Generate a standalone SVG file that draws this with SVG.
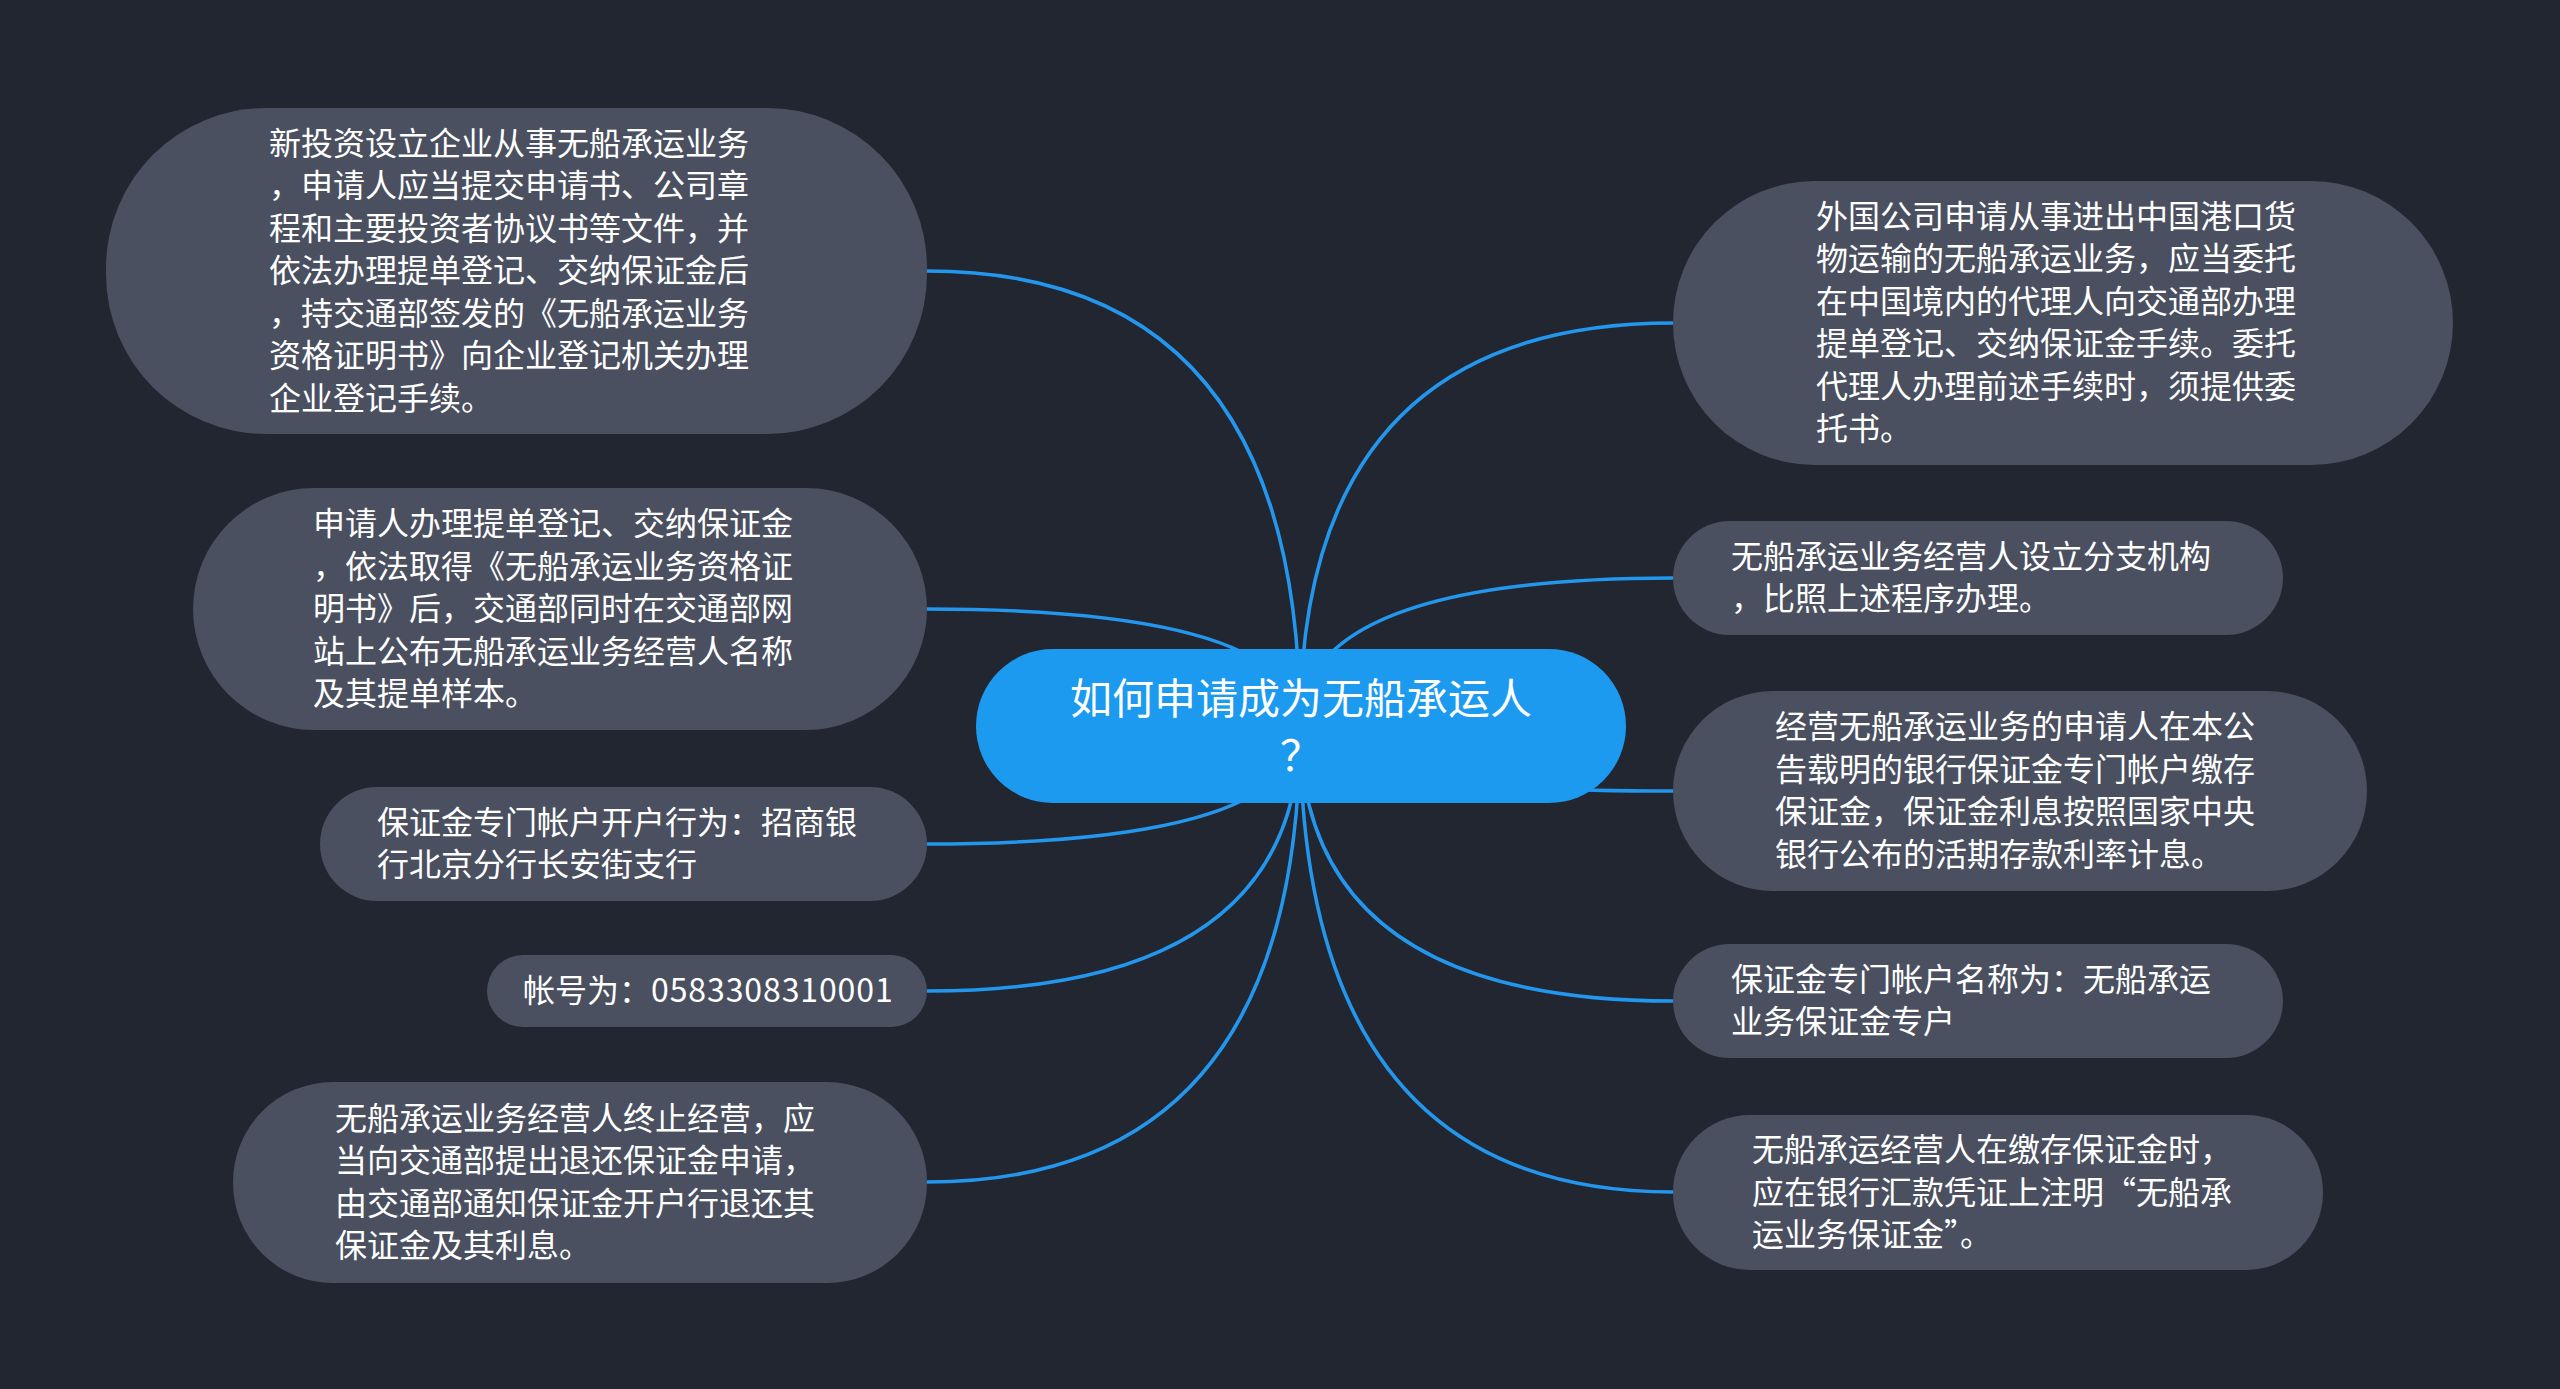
<svg xmlns="http://www.w3.org/2000/svg" width="2560" height="1389" viewBox="0 0 2560 1389">
<style>
.bg{fill:#222630}
.node{fill:#4a5060}
.root{fill:#1c9af0}
.t{font-family:"Noto Sans CJK SC","Noto Sans",sans-serif;font-size:32px;fill:#ffffff}
.rt{font-family:"Noto Sans CJK SC","Noto Sans",sans-serif;font-size:42px;fill:#ffffff;text-anchor:middle}
.c{fill:none;stroke:#2396ee;stroke-width:3.5}
</style>
<rect class="bg" x="0" y="0" width="2560" height="1389"/>
<g id="connectors">
<path class="c" d="M927 271 Q1300 271 1300 726"/>
<path class="c" d="M927 609 Q1300 609 1300 726"/>
<path class="c" d="M927 844 Q1300 844 1300 726"/>
<path class="c" d="M927 991 Q1300 991 1300 726"/>
<path class="c" d="M927 1182 Q1300 1182 1300 726"/>
<path class="c" d="M1673 323 Q1300 323 1300 726"/>
<path class="c" d="M1673 578 Q1300 578 1300 726"/>
<path class="c" d="M1673 791 Q1300 791 1300 726"/>
<path class="c" d="M1673 1001 Q1300 1001 1300 726"/>
<path class="c" d="M1673 1192 Q1300 1192 1300 726"/>
</g>
<g id="root">
<rect class="root" x="976" y="649" width="650" height="154" rx="77"/>
<text class="rt" x="1301" y="714">如何申请成为无船承运人</text>
<text class="rt" x="1301" y="771">？</text>
</g>
<g id="L1">
<rect class="node" x="106" y="108" width="821" height="326" rx="160"/>
<text class="t" x="269"><tspan x="269" y="155">新投资设立企业从事无船承运业务</tspan><tspan x="269" y="197">，申请人应当提交申请书、公司章</tspan><tspan x="269" y="240">程和主要投资者协议书等文件，并</tspan><tspan x="269" y="282">依法办理提单登记、交纳保证金后</tspan><tspan x="269" y="325">，持交通部签发的《无船承运业务</tspan><tspan x="269" y="367">资格证明书》向企业登记机关办理</tspan><tspan x="269" y="410">企业登记手续。</tspan></text>
</g>
<g id="L2">
<rect class="node" x="193" y="488" width="734" height="242" rx="121"/>
<text class="t"><tspan x="313" y="535">申请人办理提单登记、交纳保证金</tspan><tspan x="313" y="578">，依法取得《无船承运业务资格证</tspan><tspan x="313" y="620">明书》后，交通部同时在交通部网</tspan><tspan x="313" y="663">站上公布无船承运业务经营人名称</tspan><tspan x="313" y="705">及其提单样本。</tspan></text>
</g>
<g id="L3">
<rect class="node" x="320" y="787" width="607" height="114" rx="57"/>
<text class="t"><tspan x="377" y="834">保证金专门帐户开户行为：招商银</tspan><tspan x="377" y="876">行北京分行长安街支行</tspan></text>
</g>
<g id="L4">
<rect class="node" x="487" y="955" width="440" height="72" rx="36"/>
<text class="t" x="523" y="1002">帐号为：<tspan letter-spacing="0.9">0583308310001</tspan></text>
</g>
<g id="L5">
<rect class="node" x="233" y="1082" width="694" height="201" rx="100"/>
<text class="t"><tspan x="335" y="1130">无船承运业务经营人终止经营，应</tspan><tspan x="335" y="1172">当向交通部提出退还保证金申请，</tspan><tspan x="335" y="1215">由交通部通知保证金开户行退还其</tspan><tspan x="335" y="1257">保证金及其利息。</tspan></text>
</g>
<g id="R1">
<rect class="node" x="1673" y="181" width="780" height="284" rx="142"/>
<text class="t"><tspan x="1816" y="228">外国公司申请从事进出中国港口货</tspan><tspan x="1816" y="270">物运输的无船承运业务，应当委托</tspan><tspan x="1816" y="313">在中国境内的代理人向交通部办理</tspan><tspan x="1816" y="355">提单登记、交纳保证金手续。委托</tspan><tspan x="1816" y="398">代理人办理前述手续时，须提供委</tspan><tspan x="1816" y="440">托书。</tspan></text>
</g>
<g id="R2">
<rect class="node" x="1673" y="521" width="610" height="114" rx="57"/>
<text class="t"><tspan x="1731" y="568">无船承运业务经营人设立分支机构</tspan><tspan x="1731" y="610">，比照上述程序办理。</tspan></text>
</g>
<g id="R3">
<rect class="node" x="1673" y="691" width="694" height="200" rx="100"/>
<text class="t"><tspan x="1775" y="738">经营无船承运业务的申请人在本公</tspan><tspan x="1775" y="781">告载明的银行保证金专门帐户缴存</tspan><tspan x="1775" y="823">保证金，保证金利息按照国家中央</tspan><tspan x="1775" y="866">银行公布的活期存款利率计息。</tspan></text>
</g>
<g id="R4">
<rect class="node" x="1673" y="944" width="610" height="114" rx="57"/>
<text class="t"><tspan x="1731" y="991">保证金专门帐户名称为：无船承运</tspan><tspan x="1731" y="1033">业务保证金专户</tspan></text>
</g>
<g id="R5">
<rect class="node" x="1673" y="1115" width="650" height="155" rx="77"/>
<text class="t"><tspan x="1752" y="1161">无船承运经营人在缴存保证金时，</tspan><tspan x="1752" y="1204">应在银行汇款凭证上注明“无船承</tspan><tspan x="1752" y="1246">运业务保证金”。</tspan></text>
</g>
</svg>
